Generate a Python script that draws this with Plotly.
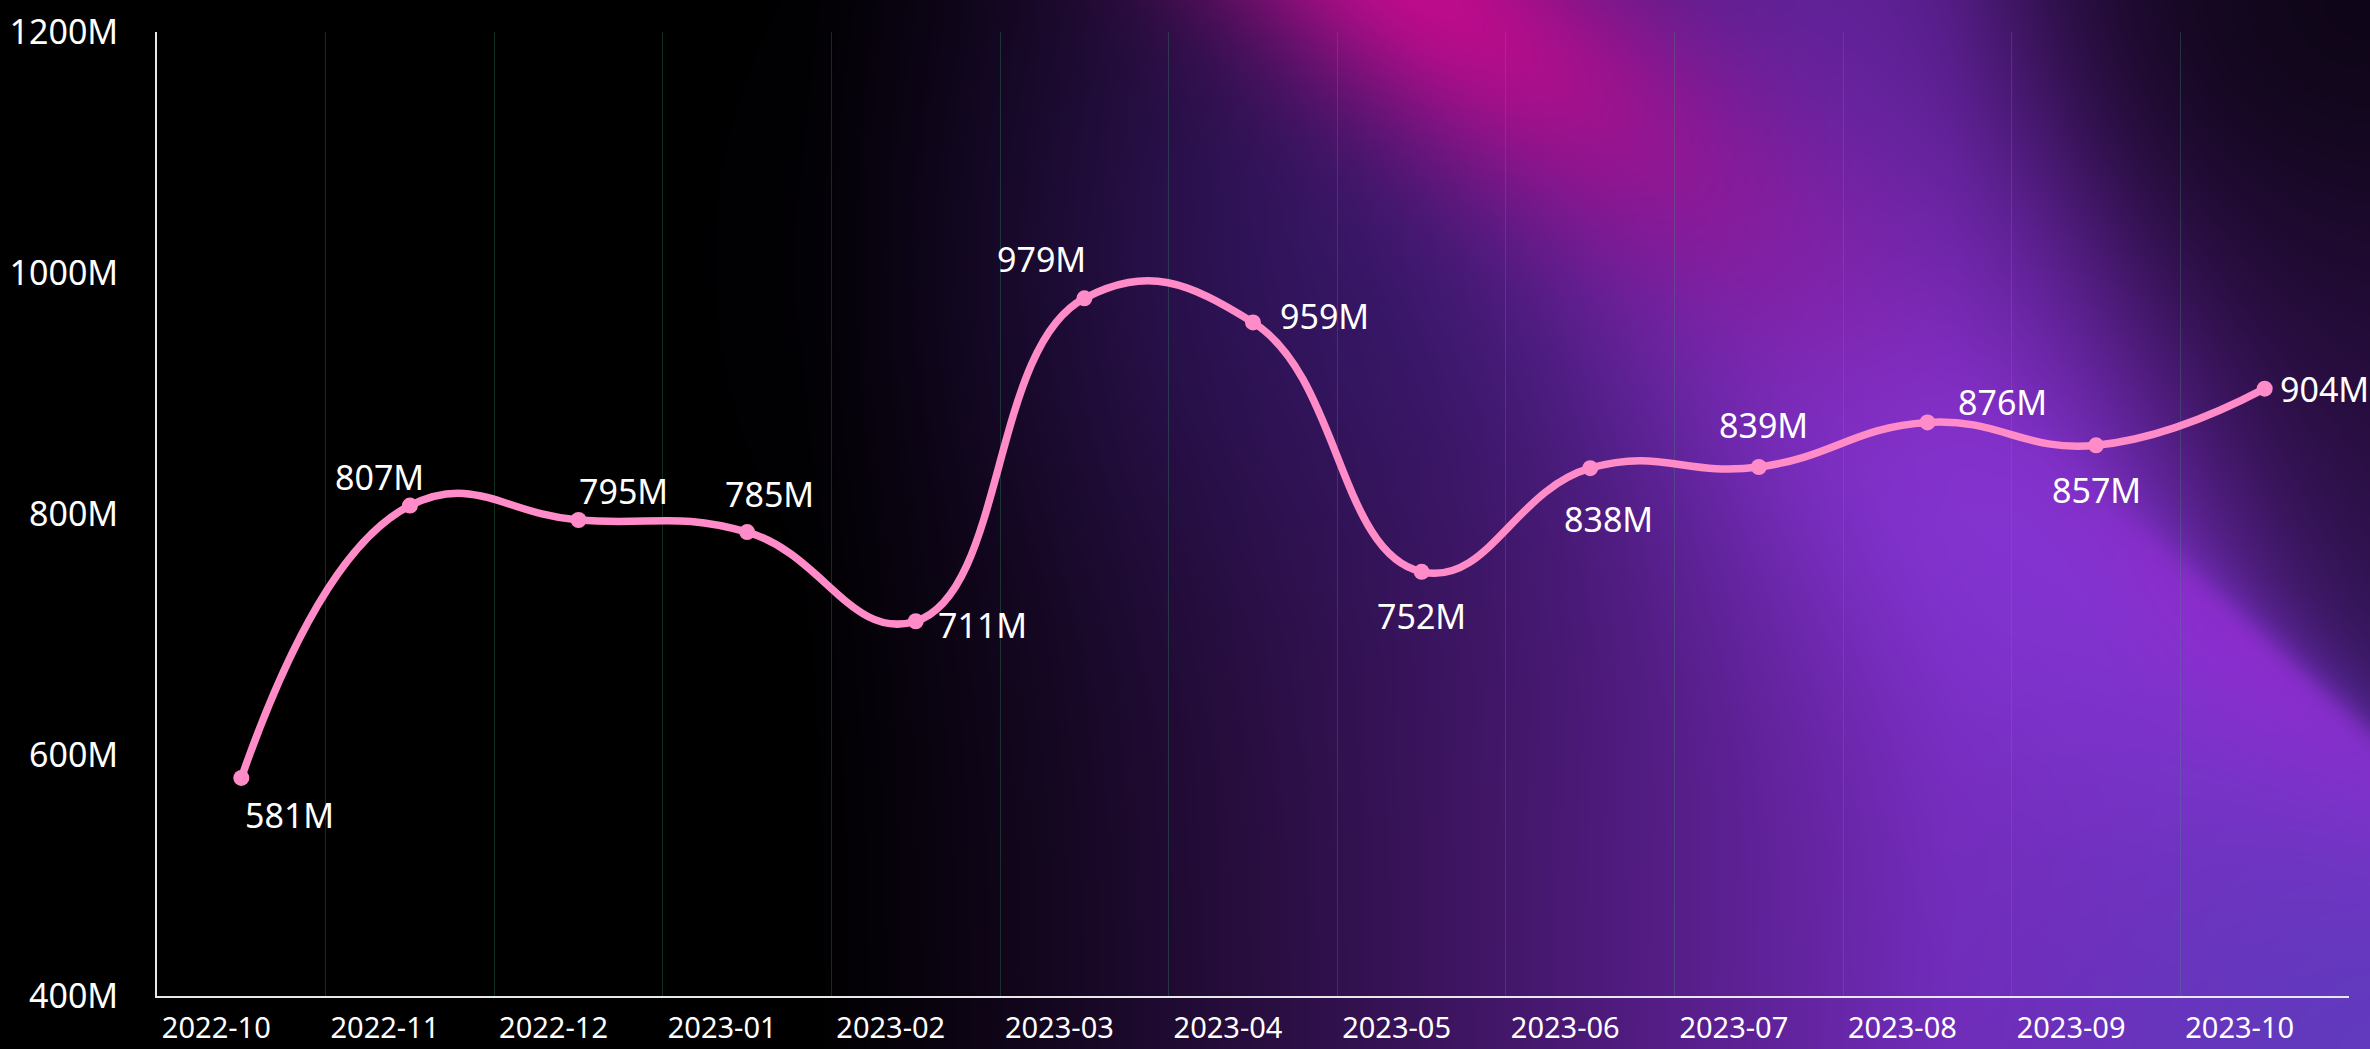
import base64
import struct
import zlib

import numpy as np
import plotly.graph_objects as go

# ---------------- data ----------------
months = ["2022-10", "2022-11", "2022-12", "2023-01", "2023-02", "2023-03", "2023-04",
          "2023-05", "2023-06", "2023-07", "2023-08", "2023-09", "2023-10"]
values = [581, 807, 795, 785, 711, 979, 959, 752, 838, 839, 876, 857, 904]
y_ticks = [400, 600, 800, 1000, 1200]
y_tick_labels = ["400M", "600M", "800M", "1000M", "1200M"]

# label placement styles (anchor, x shift px, y shift px)
label_anchor = ["left", "center", "left", "center", "left", "right", "left",
                "center", "center", "center", "left", "center", "left"]
label_dx = [2, -30, -2, 22, 20, 4, 25, 0, 18, 5, 29, 0, 13]
label_dy = [-37, 29, 29, 38, -4, 39, 6, -44, -51, 42, 20, -45, 0]

W, H = 2370, 1049
ML, MR, MT, MB = 157, 21, 32, 53
FONT = "Noto Sans"
PINK = "#ff8cc8"


# ---------------- background gradient image ----------------
def make_background():
    h, w = H // 2, W // 2
    s = W / w
    yy, xx = np.mgrid[0:h, 0:w].astype(float)
    X = xx * s
    Y = yy * s
    img = np.zeros((h, w, 3))

    def over(col, a):
        nonlocal img
        a = np.clip(a, 0, 1)[..., None]
        img = img * (1 - a) + np.array(col, float) * a

    def rot(cx, cy, ang):
        c, sn = np.cos(np.radians(ang)), np.sin(np.radians(ang))
        u = (X - cx) * c + (Y - cy) * sn
        v = -(X - cx) * sn + (Y - cy) * c
        return u, v

    def sig(z):
        return 1 / (1 + np.exp(-np.clip(z, -60, 60)))

    # base horizontal purple ramp
    t = np.clip((X - 800) / 1150, 0, 1)
    over((118, 40, 185), t ** 1.15)
    # indigo upper middle
    over((52, 24, 108), 0.6 * np.exp(-((X - 1380) / 360) ** 2 - ((Y - 260) / 320) ** 2))
    # bright lavender band
    u, v = rot(1980, 500, 45)
    over((135, 55, 215), 0.85 * np.exp(-(u / 520) ** 2 - (v / 210) ** 2))
    # magenta-purple diagonal
    u, v = rot(1680, 200, 35)
    over((125, 25, 150), 0.45 * np.exp(-(u / 300) ** 2 - (v / 140) ** 2))
    # magenta glow top
    u, v = rot(1410, -20, 35)
    over((190, 12, 140), 1.0 * np.exp(-(u / 340) ** 2 - (v / 120) ** 2))
    # dark region on the right
    d1 = (X - 2025) * 0.940 - Y * 0.342
    d2 = -(X - 2187) * 0.672 + (Y - 567) * 0.741
    over((30, 10, 48), 0.92 * sig(d1 / 60) * sig(-d2 / 18))
    over((10, 4, 16), 0.8 * np.exp(-((X - 2370) / 330) ** 2 - (Y / 260) ** 2))
    # bright streak below the dark region
    over((158, 42, 216), 0.85 * sig(d2 / 6) * np.exp(-(d2 / 120) ** 2) * sig((X - 2150) / 50))
    # blue-purple bottom right
    over((92, 62, 190), 0.85 * np.exp(-((X - 2420) / 420) ** 2 - ((Y - 1090) / 340) ** 2))

    arr = np.clip(img, 0, 255).astype(np.uint8)
    raw = arr.reshape(h, -1).astype(np.int16)
    filt = raw.copy()
    filt[1:] = (raw[1:] - raw[:-1]) % 256
    rows = np.concatenate([np.full((h, 1), 2, np.int16), filt], axis=1).astype(np.uint8)
    data = zlib.compress(rows.tobytes(), 9)

    def chunk(tag, d):
        c = struct.pack(">I", len(d)) + tag + d
        return c + struct.pack(">I", zlib.crc32(tag + d) & 0xFFFFFFFF)

    png = (b"\x89PNG\r\n\x1a\n" + chunk(b"IHDR", struct.pack(">IIBBBBB", w, h, 8, 2, 0, 0, 0))
           + chunk(b"IDAT", data) + chunk(b"IEND", b""))
    return "data:image/png;base64," + base64.b64encode(png).decode()


pw, ph = W - ML - MR, H - MT - MB

fig = go.Figure()
fig.add_trace(go.Scatter(
    x=months, y=values, mode="lines+markers",
    line=dict(shape="spline", smoothing=1.3, color=PINK, width=7.5),
    marker=dict(size=16, color=PINK),
    hoverinfo="x+y",
))

for i, (m, v) in enumerate(zip(months, values)):
    fig.add_annotation(
        x=m, y=v, text=f"{v}M", showarrow=False,
        xanchor=label_anchor[i], yanchor="middle",
        xshift=label_dx[i], yshift=label_dy[i],
        font=dict(family=FONT, size=34, color="white"),
    )

fig.add_layout_image(dict(
    source=make_background(), xref="paper", yref="paper",
    x=-ML / pw, y=1 + MT / ph, sizex=W / pw, sizey=H / ph,
    xanchor="left", yanchor="top", sizing="stretch", layer="below",
))

fig.update_layout(
    width=W, height=H,
    margin=dict(l=ML, r=MR, t=MT, b=MB, pad=0, autoexpand=False),
    paper_bgcolor="black", plot_bgcolor="rgba(0,0,0,0)",
    showlegend=False,
    font=dict(family=FONT, color="white"),
    xaxis=dict(
        type="category", range=[-0.5, len(months) - 0.5], automargin=False,
        showline=True, linecolor="#e8e8e8", linewidth=2,
        showgrid=True, gridcolor="rgba(60,160,110,0.28)", gridwidth=1,
        tickson="boundaries", ticks="", zeroline=False,
        tickfont=dict(family=FONT, size=29, color="white"),
        ticklabelshift=-25, ticklabelstandoff=5,
    ),
    yaxis=dict(
        range=[y_ticks[0], y_ticks[-1]], tickvals=y_ticks, ticktext=y_tick_labels,
        automargin=False,
        showline=True, linecolor="#e8e8e8", linewidth=2,
        showgrid=False, zeroline=False, ticks="",
        tickfont=dict(family=FONT, size=34, color="white"),
        ticklabelstandoff=30,
    ),
)

fig.write_html(
    "out.html",
    config={"displayModeBar": False},
    post_script="document.body.style.margin='0';document.body.style.overflow='hidden';",
)
